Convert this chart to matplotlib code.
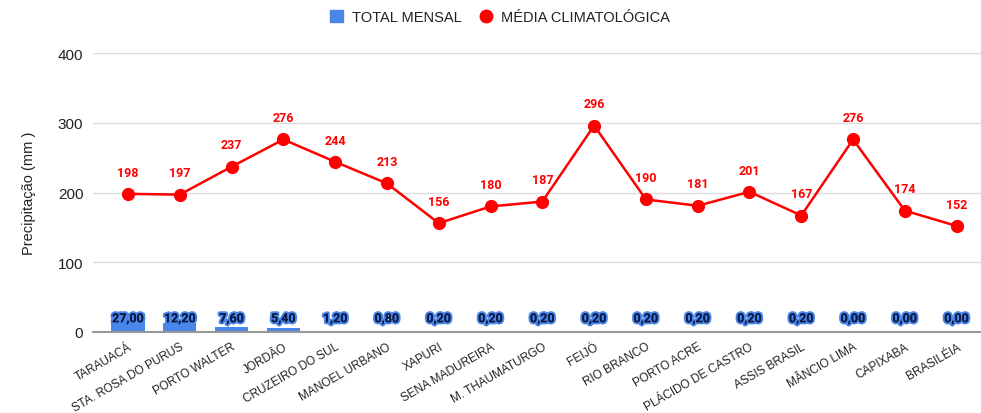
import matplotlib
matplotlib.use("Agg")
import matplotlib.pyplot as plt
import matplotlib.patheffects as pe
from matplotlib.lines import Line2D
from matplotlib.patches import Patch

categories = ["TARAUACÁ", "STA. ROSA DO PURUS", "PORTO WALTER", "JORDÃO",
              "CRUZEIRO DO SUL", "MANOEL URBANO", "XAPURI", "SENA MADUREIRA",
              "M. THAUMATURGO", "FEIJÓ", "RIO BRANCO", "PORTO ACRE",
              "PLÁCIDO DE CASTRO", "ASSIS BRASIL", "MÂNCIO LIMA", "CAPIXABA",
              "BRASILÉIA"]
total_mensal = [27.0, 12.2, 7.6, 5.4, 1.2, 0.8, 0.2, 0.2, 0.2, 0.2, 0.2, 0.2,
                0.2, 0.2, 0.0, 0.0, 0.0]
media_clim = [198, 197, 237, 276, 244, 213, 156, 180, 187, 296, 190, 181,
              201, 167, 276, 174, 152]
yticks = [0, 100, 200, 300, 400]

plt.rcParams['font.family'] = ['Liberation Sans', 'DejaVu Sans']

fig = plt.figure(figsize=(9.81, 4.14), dpi=100)
ax = fig.add_axes([93/981, 1-333/414, 888/981, 279/414])

x = list(range(len(categories)))
blue = "#4a86e8"
red = "#ff0000"

ax.bar(x, total_mensal, width=0.64, color=blue, zorder=2)
ax.plot(x, media_clim, color=red, lw=1.8, marker="o", ms=8.5, zorder=3)

for xi, v in zip(x, media_clim):
    ax.annotate(f"{v}", (xi, v), xytext=(0, 11), textcoords="offset points",
                ha="center", va="bottom", color=red, fontsize=9,
                fontweight="bold", family=["Roboto", "DejaVu Sans"], zorder=4)

for xi, v in zip(x, total_mensal):
    t = ax.text(xi, 19, f"{v:.2f}".replace(".", ","), ha="center", va="center",
                color="#0a1a45", fontsize=9, fontweight="bold",
                family=["Roboto", "DejaVu Sans"], zorder=5)
    t.set_path_effects([pe.withStroke(linewidth=3, foreground="#4a86e8"),
                        pe.Normal()])

ax.set_xlim(-0.676, 16.47)
ax.set_ylim(0, 400)
ax.set_yticks(yticks)
ax.set_yticklabels([str(t) for t in yticks], fontsize=11, color="#222222")
ax.set_xticks(x)
ax.set_xticklabels(categories, rotation=30, ha="right", va="top",
                   rotation_mode="anchor", fontsize=8.5, color="#222222")
ax.tick_params(axis="both", length=0)
ax.tick_params(axis="x", pad=6)
ax.tick_params(axis="y", pad=7)

for s in ["top", "right", "left"]:
    ax.spines[s].set_visible(False)
ax.spines["bottom"].set_color("#999999")
ax.spines["bottom"].set_linewidth(1.5)
ax.grid(axis="y", color="#dddddd", lw=1, zorder=0)
ax.set_axisbelow(True)

ax.set_ylabel("Precipitação (mm )", fontsize=10.5, color="#222222", labelpad=16)

handles = [Patch(facecolor=blue, edgecolor=blue),
           Line2D([], [], color=red, marker="o", ls="none", ms=9)]
fig.legend(handles, ["TOTAL MENSAL", "MÉDIA CLIMATOLÓGICA"], loc="center",
           bbox_to_anchor=(0.51, 1-18/414), ncol=2, frameon=False,
           fontsize=10.5, handlelength=0.9, handleheight=0.9,
           columnspacing=1.2, handletextpad=0.6, labelcolor="#222222")

fig.savefig("out.png", dpi=100)
